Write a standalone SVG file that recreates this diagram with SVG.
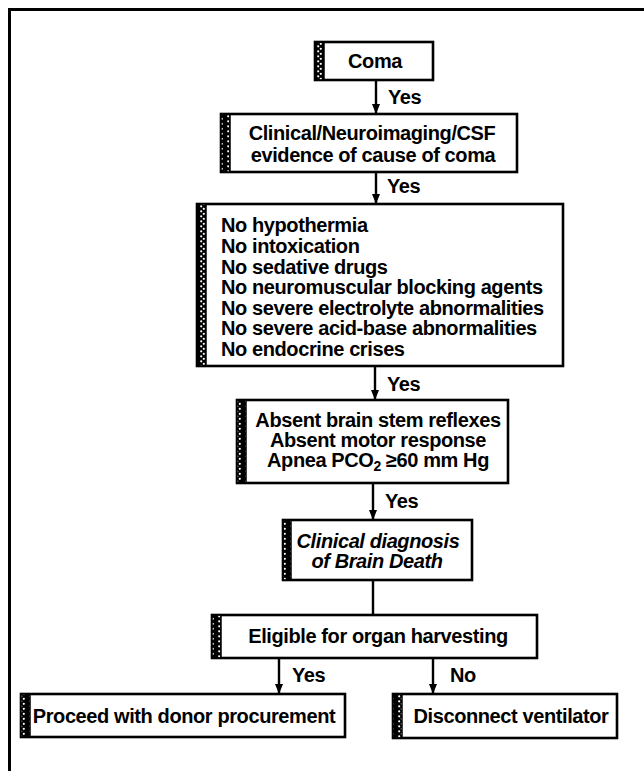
<svg xmlns="http://www.w3.org/2000/svg" width="644" height="771" viewBox="0 0 644 771">
<style>
.box{fill:#fff;stroke:#000;stroke-width:2.6}
.strip{fill:url(#dots);stroke:#000;stroke-width:1.5}
.t{font-family:"Liberation Sans",Arial,sans-serif;font-weight:bold;font-size:20px;letter-spacing:-0.4px;fill:#000}
.c{text-anchor:middle}
.it{font-style:italic}
.edge{stroke:#000;stroke-width:2.4;fill:none}
.lbl{font-family:"Liberation Sans",Arial,sans-serif;font-weight:bold;font-size:20px;letter-spacing:-0.4px;fill:#000}
</style>
<defs>
<pattern id="dots" patternUnits="userSpaceOnUse" width="9" height="5">
<rect width="9" height="5" fill="#000"/>
<circle cx="3.2" cy="1.3" r="1.1" fill="#fff"/>
<circle cx="5.8" cy="3.8" r="1.1" fill="#fff"/>
</pattern>
<marker id="ah" markerUnits="userSpaceOnUse" markerWidth="10" markerHeight="8" refX="9" refY="4" orient="auto" viewBox="0 0 10 8">
<path d="M0,0 L10,4 L0,8 Z" fill="#000"/>
</marker>
</defs>
<rect width="644" height="771" fill="#fff"/>
<g id="frame">
<line x1="8" y1="9.5" x2="644" y2="9.5" stroke="#000" stroke-width="3"/>
<line x1="9.5" y1="8" x2="9.5" y2="771" stroke="#000" stroke-width="3"/>
</g>
<g id="connectors">
<line class="edge" x1="376" y1="80" x2="376" y2="113" marker-end="url(#ah)"/>
<line class="edge" x1="376" y1="172" x2="376" y2="203" marker-end="url(#ah)"/>
<line class="edge" x1="375" y1="366" x2="375" y2="399" marker-end="url(#ah)"/>
<line class="edge" x1="373" y1="483" x2="373" y2="519" marker-end="url(#ah)"/>
<line class="edge" x1="373" y1="580" x2="373" y2="615"/>
<line class="edge" x1="279" y1="658" x2="279" y2="693" marker-end="url(#ah)"/>
<line class="edge" x1="433" y1="658" x2="433" y2="693" marker-end="url(#ah)"/>
<text class="lbl" x="388" y="104">Yes</text>
<text class="lbl" x="387" y="193">Yes</text>
<text class="lbl" x="387" y="391">Yes</text>
<text class="lbl" x="385" y="508">Yes</text>
<text class="lbl" x="292" y="682">Yes</text>
<text class="lbl" x="450" y="682">No</text>
</g>
<g id="coma">
<rect class="box" x="315" y="42" width="118" height="38"/>
<rect class="strip" x="315" y="42" width="9" height="38"/>
<text class="t c" x="375" y="68">Coma</text>
</g>
<g id="evidence">
<rect class="box" x="221" y="114" width="296" height="58"/>
<rect class="strip" x="221" y="114" width="9" height="58"/>
<text class="t c" x="372" y="140">Clinical/Neuroimaging/CSF</text>
<text class="t c" x="373" y="162">evidence of cause of coma</text>
</g>
<g id="preconditions">
<rect class="box" x="197" y="204" width="366" height="162"/>
<rect class="strip" x="197" y="204" width="9" height="162"/>
<text class="t" x="221" y="232">No hypothermia</text>
<text class="t" x="221" y="253">No intoxication</text>
<text class="t" x="221" y="274">No sedative drugs</text>
<text class="t" x="221" y="294">No neuromuscular blocking agents</text>
<text class="t" x="221" y="315">No severe electrolyte abnormalities</text>
<text class="t" x="221" y="335">No severe acid-base abnormalities</text>
<text class="t" x="221" y="356">No endocrine crises</text>
</g>
<g id="reflexes">
<rect class="box" x="237" y="400" width="271" height="83"/>
<rect class="strip" x="237" y="400" width="9" height="83"/>
<text class="t c" x="378" y="427">Absent brain stem reflexes</text>
<text class="t c" x="378" y="447">Absent motor response</text>
<text class="t c" x="378" y="467">Apnea PCO<tspan font-size="14" dy="4">2</tspan><tspan dy="-4"> ≥60 mm Hg</tspan></text>
</g>
<g id="diagnosis">
<rect class="box" x="283" y="520" width="189" height="60"/>
<rect class="strip" x="283" y="520" width="8" height="60"/>
<text class="t c it" x="378" y="548">Clinical diagnosis</text>
<text class="t c it" x="377" y="568">of Brain Death</text>
</g>
<g id="eligible">
<rect class="box" x="212" y="615" width="325" height="43"/>
<rect class="strip" x="212" y="615" width="9" height="43"/>
<text class="t c" x="378" y="643">Eligible for organ harvesting</text>
</g>
<g id="proceed">
<rect class="box" x="21" y="694" width="324" height="43"/>
<rect class="strip" x="21" y="694" width="9" height="43"/>
<text class="t c" x="184" y="723">Proceed with donor procurement</text>
</g>
<g id="disconnect">
<rect class="box" x="393" y="694" width="224" height="44"/>
<rect class="strip" x="393" y="694" width="9" height="44"/>
<text class="t c" x="511" y="723">Disconnect ventilator</text>
</g>
</svg>
